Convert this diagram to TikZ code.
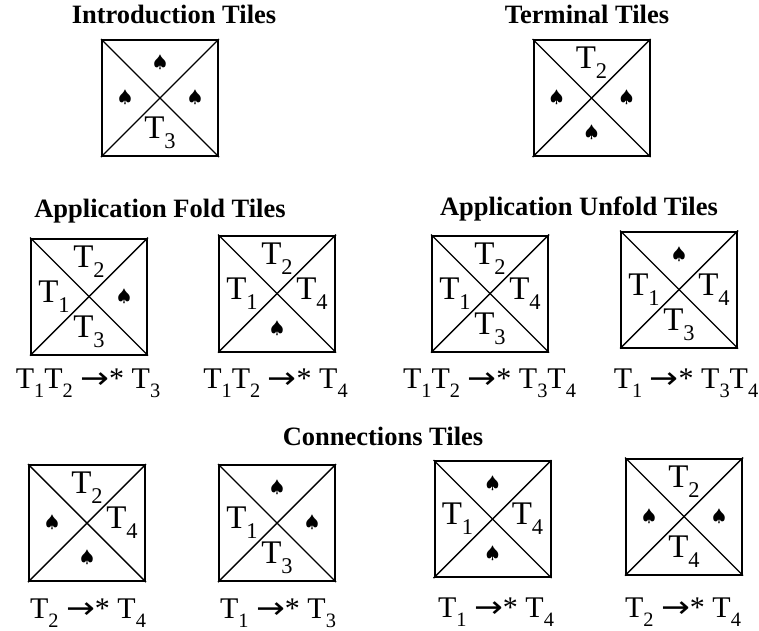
\documentclass[tikz,border=0pt]{standalone}
\usepackage{fontspec}
\setmainfont{Liberation Serif}
\newfontfamily\arrfont{DejaVu Sans}
\makeatletter
\newcommand\Tn[1]{T\raisebox{-0.3em}{\fontsize{\strip@pt\dimexpr\f@size pt*68/100\relax}{1}\selectfont #1}}
\makeatother
\newcommand\spd{{\fontsize{17}{17}\selectfont$\spadesuit$}}
\newcommand\arw{{\arrfont\scalebox{1.15}[1]{→}}*}
\tikzset{
  tilebox/.style={draw, line width=2pt, minimum size=116pt, inner sep=0pt},
  diag/.style={line width=1.4pt},
  cell/.style={inner sep=0pt, font=\fontsize{33}{33}\selectfont},
  lab/.style={inner sep=0pt, anchor=base, font=\fontsize{30}{30}\selectfont},
  ttl/.style={inner sep=0pt, anchor=base, font=\fontsize{26.5}{26.5}\selectfont\bfseries},
}
\newcommand\tile[6]{%
  \node[tilebox] (#1) at (#2) {};
  \draw[diag] (#1.north west) -- (#1.south east);
  \draw[diag] (#1.north east) -- (#1.south west);
  \node[cell] (#1-t) at ([yshift=35pt]#1.center) {#3};
  \node[cell] (#1-l) at ([xshift=-35pt]#1.center) {#4};
  \node[cell] (#1-r) at ([xshift=35pt]#1.center) {#5};
  \node[cell] (#1-b) at ([yshift=-35pt]#1.center) {#6};
}
\begin{document}
\begin{tikzpicture}[x=1pt,y=-1pt]
\useasboundingbox (0,0) rectangle (759,630);
% titles
\node[ttl] (ti1) at (174,23) {Introduction Tiles};
\node[ttl] (ti2) at (587,23) {Terminal Tiles};
\node[ttl] (ti3) at (160,217) {Application Fold Tiles};
\node[ttl] (ti4) at (579,215) {Application Unfold Tiles};
\node[ttl] (ti5) at (383,445) {Connections Tiles};
% row 1
\tile{ia}{160,98}{\spd}{\spd}{\spd}{\Tn3}
\tile{ta}{591.5,98}{\Tn2}{\spd}{\spd}{\spd}
% row 2
\tile{fa}{89,296.5}{\Tn2}{\Tn1}{\spd}{\Tn3}
\tile{fb}{277,293.5}{\Tn2}{\Tn1}{\Tn4}{\spd}
\tile{ua}{490,293.5}{\Tn2}{\Tn1}{\Tn4}{\Tn3}
\tile{ub}{679,289.5}{\spd}{\Tn1}{\Tn4}{\Tn3}
\node[lab] (lfa) at (88,388) {\Tn1\Tn2 \arw{} \Tn3};
\node[lab] (lfb) at (275.5,388) {\Tn1\Tn2 \arw{} \Tn4};
\node[lab] (lua) at (489.5,388) {\Tn1\Tn2 \arw{} \Tn3\Tn4};
\node[lab] (lub) at (686,388) {\Tn1 \arw{} \Tn3\Tn4};
% row 3
\tile{ca}{87,523}{\Tn2}{\spd}{\Tn4}{\spd}
\tile{cb}{277,523}{\spd}{\Tn1}{\spd}{\Tn3}
\tile{cc}{492.5,519}{\spd}{\Tn1}{\Tn4}{\spd}
\tile{cd}{684,516.5}{\Tn2}{\spd}{\spd}{\Tn4}
\node[lab] (lca) at (88,618) {\Tn2 \arw{} \Tn4};
\node[lab] (lcb) at (278,618) {\Tn1 \arw{} \Tn3};
\node[lab] (lcc) at (496,617) {\Tn1 \arw{} \Tn4};
\node[lab] (lcd) at (683,617) {\Tn2 \arw{} \Tn4};
\end{tikzpicture}
\end{document}
